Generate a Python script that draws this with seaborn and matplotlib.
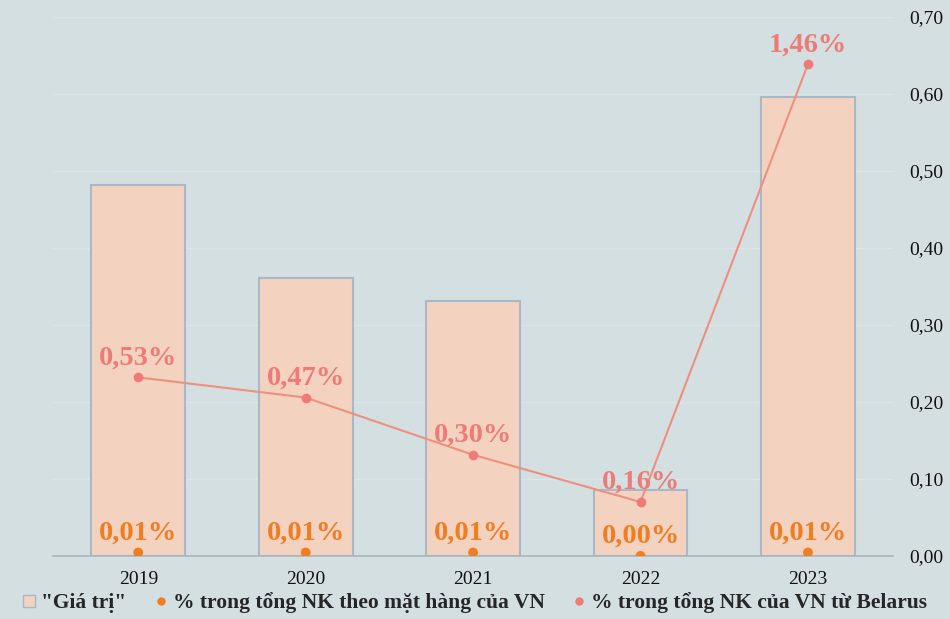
import pandas as pd
import matplotlib.pyplot as plt
import seaborn as sns
from matplotlib.lines import Line2D
from matplotlib.ticker import FuncFormatter

years = ["2019", "2020", "2021", "2022", "2023"]
gia_tri = [0.482, 0.361, 0.331, 0.086, 0.596]
pct_mat_hang = [0.01, 0.01, 0.01, 0.00, 0.01]
pct_belarus = [0.53, 0.47, 0.30, 0.16, 1.46]

BG = "#d3dfe0"
BAR = "#f3d3c0"
BAR_EDGE = "#a9b7c6"
PINK = "#ef7b78"
PINK_LINE = "#ee9080"
ORANGE = "#ef7d22"

df = pd.DataFrame({"year": years, "value": gia_tri,
                   "pct_mh": pct_mat_hang, "pct_by": pct_belarus})

sns.set_theme(style="white")
plt.rcParams["font.family"] = ["Liberation Serif", "DejaVu Serif"]

fig = plt.figure(figsize=(9.5, 6.19), dpi=100, facecolor=BG)
ax = fig.add_axes([0.056, 0.102, 0.884, 0.8705])
ax.set_facecolor(BG)

sns.barplot(data=df, x="year", y="value", color=BAR, edgecolor=BAR_EDGE,
            linewidth=1.5, width=0.56, saturation=1, ax=ax, zorder=2)

ax2 = ax.twinx()
ax2.set_ylim(0, 1.6)
sns.lineplot(data=df, x="year", y="pct_by", color=PINK_LINE, linewidth=1.5,
             marker="o", markersize=7, markerfacecolor=PINK, markeredgewidth=0,
             ax=ax2, zorder=3)
sns.scatterplot(data=df, x="year", y="pct_mh", color=ORANGE, s=50,
                edgecolor="none", ax=ax2, zorder=3)
ax2.set_yticks([])
ax2.set_ylabel("")
for s in ax2.spines.values():
    s.set_visible(False)

ax.set_ylim(0, 0.70)
ax.set_yticks([i / 10 for i in range(8)])
ax.yaxis.set_major_formatter(FuncFormatter(lambda v, p: f"{v:.2f}".replace(".", ",")))
ax.yaxis.tick_right()
ax.yaxis.set_label_position("right")
ax.grid(axis="y", color="#dde6e7", linewidth=1, zorder=0)
ax.set_axisbelow(True)
for s in ["top", "left", "right"]:
    ax.spines[s].set_visible(False)
ax.spines["bottom"].set_color("#a9b7bb")
ax.spines["bottom"].set_linewidth(1.2)
ax.tick_params(axis="y", labelsize=14, length=0, pad=12, colors="#111111",
               labelright=True, labelleft=False)
ax.tick_params(axis="x", labelsize=14, length=0, pad=11, colors="#111111")
ax.set_xlabel("")
ax.set_ylabel("")

for i, (a, b) in enumerate(zip(pct_belarus, pct_mat_hang)):
    ax2.annotate(f"{a:.2f}%".replace(".", ","), (i, a), xytext=(0, 14),
                 textcoords="offset points", ha="center", va="center",
                 fontsize=20.5, fontweight="bold", color=PINK)
    ax2.annotate(f"{b:.2f}%".replace(".", ","), (i, b), xytext=(0, 14),
                 textcoords="offset points", ha="center", va="center",
                 fontsize=20.5, fontweight="bold", color=ORANGE)

handles = [
    Line2D([], [], marker="s", linestyle="none", markersize=8,
           markerfacecolor=BAR, markeredgecolor=BAR_EDGE),
    Line2D([], [], marker="o", linestyle="none", markersize=6,
           markerfacecolor=ORANGE, markeredgewidth=0),
    Line2D([], [], marker="o", linestyle="none", markersize=6,
           markerfacecolor=PINK, markeredgewidth=0),
]
labels = ['"Giá trị"', "% trong tổng NK theo mặt hàng của VN",
          "% trong tổng NK của VN từ Belarus"]
fig.legend(handles, labels, loc="center", bbox_to_anchor=(0.5, 0.026),
           ncol=3, frameon=False, handlelength=0.6, handletextpad=0.25,
           columnspacing=1.3, borderpad=0,
           prop={"weight": "bold", "size": 15.5})

fig.savefig("out.png", dpi=100, facecolor=BG)
